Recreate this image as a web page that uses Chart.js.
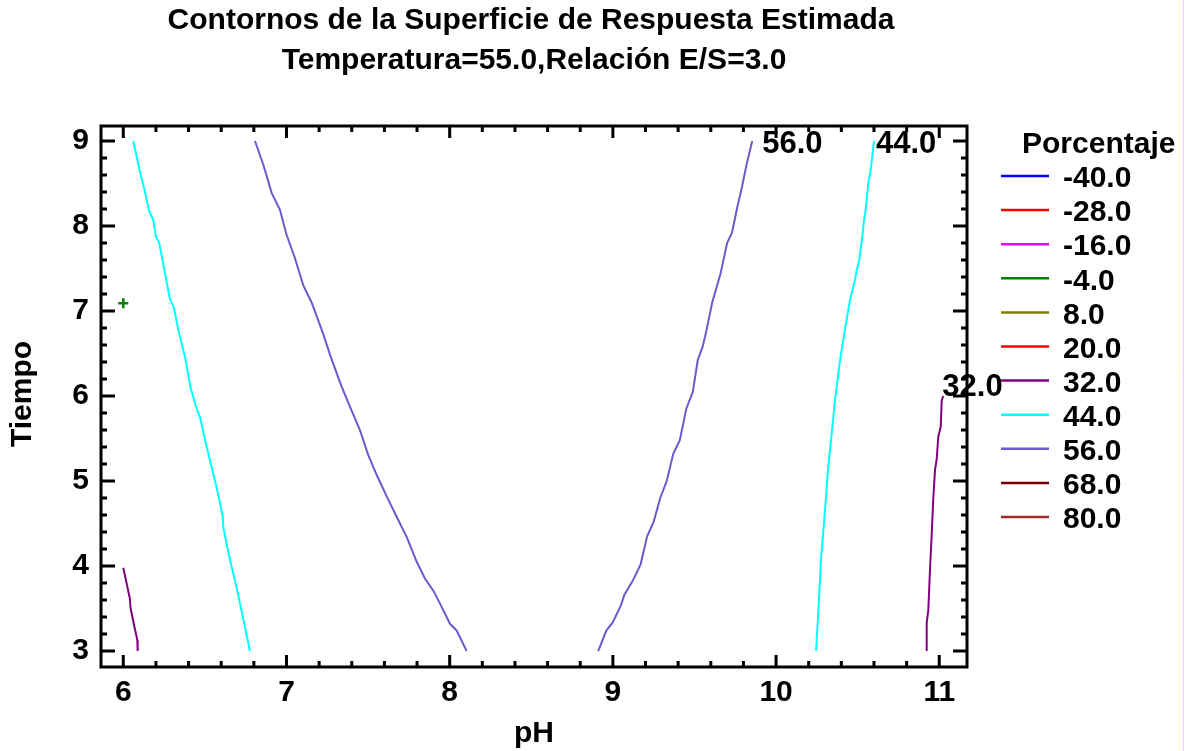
<!DOCTYPE html>
<html>
<head>
<meta charset="utf-8">
<script src="https://cdn.jsdelivr.net/npm/chart.js@4"></script>
<style>
  html, body { margin: 0; padding: 0; background: #fff; }
  #wrap { width: 1191px; height: 751px; }
</style>
</head>
<body>
<div id="wrap"><canvas id="chartContornos" width="1191" height="751"></canvas></div>
<script>
// Contornos de la superficie de respuesta (pH vs Tiempo)

// niveles de la leyenda y sus colores
const niveles = ['-40.0', '-28.0', '-16.0', '-4.0', '8.0', '20.0', '32.0', '44.0', '56.0', '68.0', '80.0'];
const coloresNivel = ['#0000ff', '#ff0000', '#ff00ff', '#008000', '#808000', '#ff0000', '#800080', '#00ffff', '#6a5acd', '#800000', '#a52a2a'];

const ticksX = [6, 7, 8, 9, 10, 11];
const ticksY = [3, 4, 5, 6, 7, 8, 9];

// contorno 44.0 (izquierda)
const c44aX = [6.061, 6.102, 6.133, 6.159, 6.184, 6.200, 6.219, 6.245, 6.286, 6.310, 6.337, 6.378, 6.398, 6.413, 6.450, 6.470, 6.511, 6.552, 6.582, 6.609, 6.613, 6.654, 6.695, 6.735, 6.776];
const c44aY = [9.00, 8.64, 8.40, 8.17, 8.07, 7.87, 7.81, 7.55, 7.14, 7.04, 6.78, 6.46, 6.25, 6.09, 5.85, 5.75, 5.40, 5.08, 4.84, 4.59, 4.45, 4.07, 3.74, 3.38, 3.00];

// contorno 56.0 (izquierda)
const c56aX = [6.807, 6.858, 6.909, 6.960, 7.000, 7.052, 7.103, 7.154, 7.225, 7.266, 7.328, 7.379, 7.450, 7.500, 7.553, 7.614, 7.675, 7.737, 7.798, 7.849, 7.900, 7.940, 8.002, 8.043, 8.104];
const c56aY = [9.00, 8.72, 8.39, 8.19, 7.90, 7.62, 7.30, 7.10, 6.73, 6.49, 6.16, 5.92, 5.60, 5.31, 5.07, 4.82, 4.58, 4.34, 4.05, 3.85, 3.71, 3.56, 3.32, 3.24, 3.00];

// contorno 56.0 (derecha)
const c56bX = [9.854, 9.820, 9.790, 9.760, 9.730, 9.700, 9.660, 9.610, 9.570, 9.550, 9.520, 9.490, 9.450, 9.410, 9.370, 9.330, 9.290, 9.250, 9.210, 9.170, 9.120, 9.070, 9.050, 9.000, 8.960, 8.910];
const c56bY = [9.00, 8.73, 8.45, 8.20, 7.92, 7.80, 7.44, 7.11, 6.74, 6.58, 6.42, 6.05, 5.85, 5.48, 5.32, 5.00, 4.80, 4.52, 4.35, 4.02, 3.82, 3.66, 3.54, 3.34, 3.24, 3.00];

// contorno 44.0 (derecha)
const c44bX = [10.600, 10.592, 10.580, 10.565, 10.551, 10.539, 10.531, 10.510, 10.494, 10.483, 10.453, 10.422, 10.392, 10.361, 10.343, 10.318, 10.300, 10.275, 10.263, 10.245];
const c44bY = [9.00, 8.86, 8.66, 8.51, 8.22, 8.07, 7.92, 7.60, 7.48, 7.36, 7.13, 6.78, 6.42, 5.95, 5.60, 5.13, 4.66, 4.07, 3.60, 3.00];

// contorno 32.0 (izquierda, abajo)
const c32aX = [6.000, 6.040, 6.045, 6.072, 6.086, 6.088];
const c32aY = [3.98, 3.62, 3.50, 3.25, 3.13, 3.00];

// contorno 32.0 (derecha)
const c32bX = [11.025, 11.015, 11.009, 10.994, 10.984, 10.974, 10.963, 10.953, 10.943, 10.933, 10.923, 10.923];
const c32bY = [6.00, 5.95, 5.64, 5.52, 5.25, 5.13, 4.78, 4.34, 3.95, 3.48, 3.33, 3.00];

// punto de diseño (cruz verde)
const puntoX = [6.0];
const puntoY = [7.09];

function pares(xs, ys) {
    return xs.map((x, i) => ({ x: x, y: ys[i] }));
}

function linea(xs, ys, nivel, etiqueta) {
    return {
        label: nivel,
        data: pares(xs, ys),
        showLine: true,
        borderColor: coloresNivel[niveles.indexOf(nivel)],
        borderWidth: 2,
        pointRadius: 0,
        tension: 0,
        etiqueta: etiqueta
    };
}

const FUENTE = 'Arial, "Liberation Sans", sans-serif';

// marco, marcas menores, titulos, leyenda y etiquetas de contorno
const decoracion = {
    id: 'decoracion',
    afterDraw(chart) {
        const ctx = chart.ctx;
        const a = chart.chartArea;
        const sx = chart.scales.x;
        const sy = chart.scales.y;
        ctx.save();

        // marco
        ctx.strokeStyle = '#000';
        ctx.lineWidth = 3;
        ctx.strokeRect(a.left, a.top, a.right - a.left, a.bottom - a.top);

        // marcas (hacia dentro), mayores cada 1, menores cada 0.2
        ctx.lineWidth = 3;
        ctx.beginPath();
        for (let i = 0; i <= 25; i++) {
            const v = 6 + i * 0.2;
            const px = sx.getPixelForValue(v);
            const len = i % 5 === 0 ? 12 : 6;
            ctx.moveTo(px, a.bottom); ctx.lineTo(px, a.bottom - len);
            ctx.moveTo(px, a.top); ctx.lineTo(px, a.top + len);
        }
        for (let i = 0; i <= 30; i++) {
            const v = 3 + i * 0.2;
            const py = sy.getPixelForValue(v);
            const len = i % 5 === 0 ? 14 : 6;
            ctx.moveTo(a.left, py); ctx.lineTo(a.left + len, py);
            ctx.moveTo(a.right, py); ctx.lineTo(a.right - len, py);
        }
        ctx.stroke();

        ctx.fillStyle = '#000';
        ctx.textBaseline = 'middle';

        // titulos
        ctx.textAlign = 'center';
        ctx.font = 'bold 30px ' + FUENTE;
        ctx.fillText('Contornos de la Superficie de Respuesta Estimada', 531, 21);
        ctx.fillText('Temperatura=55.0,Relación E/S=3.0', 534, 61);

        // titulos de ejes
        ctx.font = 'bold 30px ' + FUENTE;
        ctx.fillText('pH', 534, 734);
        ctx.save();
        ctx.translate(23, 394);
        ctx.rotate(-Math.PI / 2);
        ctx.fillText('Tiempo', 0, 0);
        ctx.restore();

        // etiquetas de contorno junto al extremo superior
        ctx.textAlign = 'left';
        ctx.font = 'bold 31px ' + FUENTE;
        chart.data.datasets.forEach(ds => {
            if (!ds.etiqueta) return;
            const p = ds.data[0];
            const px = sx.getPixelForValue(p.x);
            const py = sy.getPixelForValue(p.y);
            ctx.fillText(ds.label, px + ds.etiqueta[0], py + ds.etiqueta[1]);
        });

        // leyenda
        ctx.font = 'bold 30px ' + FUENTE;
        ctx.fillText('Porcentaje', 1022, 145);
        niveles.forEach((n, i) => {
            const y = 176 + i * 34.1;
            ctx.strokeStyle = coloresNivel[i];
            ctx.lineWidth = 2.5;
            ctx.beginPath();
            ctx.moveTo(1001, y);
            ctx.lineTo(1049, y);
            ctx.stroke();
            ctx.fillText(n, 1063, y + 3);
        });

        // borde amarillo a la derecha
        ctx.strokeStyle = '#ffff00';
        ctx.lineWidth = 1;
        ctx.beginPath();
        ctx.moveTo(1183.5, 0);
        ctx.lineTo(1183.5, 751);
        ctx.stroke();

        ctx.restore();
    }
};

const ctx = document.getElementById('chartContornos').getContext('2d');
new Chart(ctx, {
    type: 'scatter',
    data: {
        datasets: [
            linea(c44aX, c44aY, '44.0'),
            linea(c56aX, c56aY, '56.0'),
            linea(c56bX, c56bY, '56.0', [10, 3]),
            linea(c44bX, c44bY, '44.0', [2, 3]),
            linea(c32aX, c32aY, '32.0'),
            linea(c32bX, c32bY, '32.0', [-1, -9]),
            {
                label: 'punto',
                data: pares(puntoX, puntoY),
                pointStyle: 'cross',
                pointRadius: 5,
                borderColor: '#008000',
                backgroundColor: '#008000',
                borderWidth: 2.5,
                showLine: false
            }
        ]
    },
    options: {
        responsive: false,
        devicePixelRatio: 1,
        animation: false,
        layout: { padding: { top: 126, right: 224, left: 0, bottom: 0 } },
        plugins: {
            legend: { display: false },
            tooltip: { enabled: false }
        },
        scales: {
            x: {
                type: 'linear',
                min: 5.8634,
                max: 11.170,
                afterBuildTicks: s => { s.ticks = ticksX.map(v => ({ value: v })); },
                afterFit: s => { s.height = 84; },
                grid: { display: false },
                border: { display: false },
                ticks: {
                    color: '#000',
                    padding: 0,
                    maxRotation: 0,
                    autoSkip: false,
                    font: { family: FUENTE, size: 30, weight: 'bold' },
                    callback: v => String(v)
                }
            },
            y: {
                type: 'linear',
                min: 2.812,
                max: 9.176,
                afterBuildTicks: s => { s.ticks = ticksY.map(v => ({ value: v })); },
                afterFit: s => { s.width = 101; },
                grid: { display: false },
                border: { display: false },
                ticks: {
                    color: '#000',
                    padding: 4,
                    autoSkip: false,
                    font: { family: FUENTE, size: 30, weight: 'bold' },
                    callback: v => String(v)
                }
            }
        }
    },
    plugins: [decoracion]
});
</script>
</body>
</html>
